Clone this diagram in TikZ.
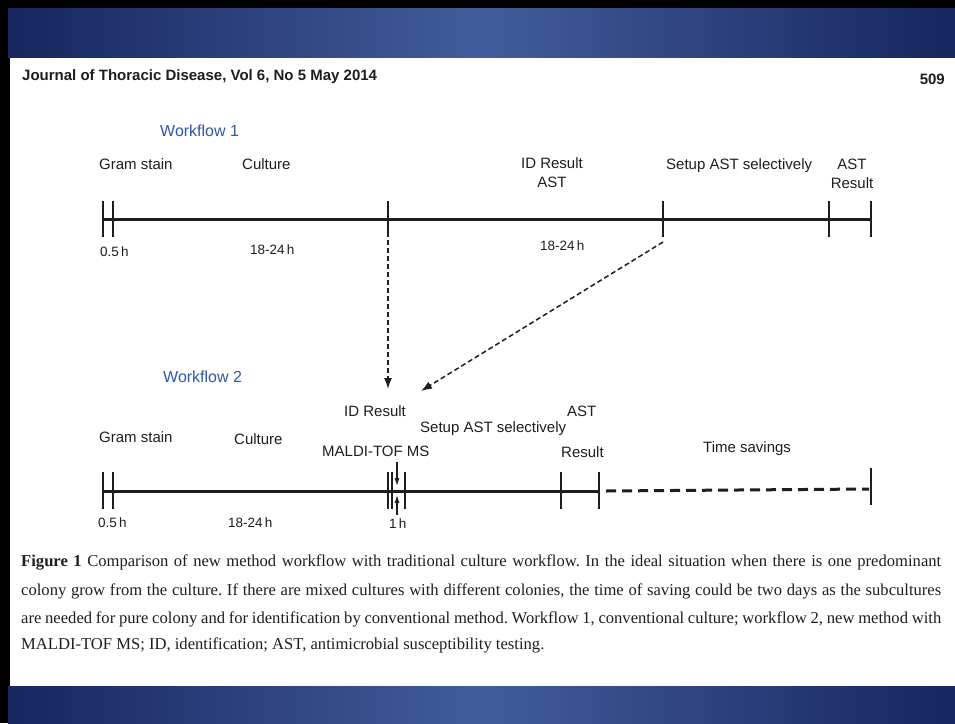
\documentclass[tikz,border=0pt]{standalone}
\usepackage{fontspec}
\setmainfont{Liberation Sans}
\newfontfamily\capfont{Liberation Serif}
\usepackage{xcolor}
\usetikzlibrary{positioning, arrows.meta}

\definecolor{bandmid}{RGB}{66,92,155}
\definecolor{bandedge}{RGB}{22,38,94}
\definecolor{wfblue}{RGB}{48,86,168}
\definecolor{ink}{RGB}{30,30,30}

\tikzset{
  lbl/.style={inner sep=0pt, text height=11pt, text depth=0pt, text=ink,
    font=\fontsize{15}{17}\selectfont},
  hrs/.style={inner sep=0pt, text height=10pt, text depth=0pt, text=ink,
    font=\fontsize{13.5}{15}\selectfont},
  wflabel/.style={inner sep=0pt, text height=11pt, text depth=0pt, text=wfblue,
    font=\fontsize{16}{18}\selectfont},
  tickmark/.style={line width=2.2pt, draw=ink},
  axis/.style={line width=3pt, draw=ink},
  jump/.style={line width=1.5pt, draw=ink, dash pattern=on 5pt off 3pt,
    -{Latex[length=11pt,width=8pt]}},
  marker/.style={line width=1.1pt, draw=ink, -{Latex[length=8pt,width=5pt]}},
  caprow/.style={inner sep=0pt, anchor=west, text=ink,
    font=\capfont\frenchspacing\fontsize{16.6}{18}\selectfont}
}

\begin{document}
\begin{tikzpicture}[x=1pt, y=-1pt]
  \useasboundingbox (0,0) rectangle (955,723);
  % frame and blue bands
  \fill[black] (0,0) rectangle (955,723);
  \fill[white] (10,57) rectangle (955,686);
  \shade[left color=bandedge, right color=bandedge, middle color=bandmid]
    (8,8) rectangle (955,57);
  \shade[left color=bandedge, right color=bandedge, middle color=bandmid]
    (8,686) rectangle (955,723);

  % page header
  \node[inner sep=0pt, anchor=west, text=ink, font=\bfseries\fontsize{15}{17}\selectfont]
    (journal) at (22,77) {Journal of Thoracic Disease, Vol 6, No 5 May 2014};
  \node[inner sep=0pt, anchor=east, text=ink, font=\bfseries\fontsize{15}{17}\selectfont]
    (page) at (945,79) {509};

  % workflow 1
  \node[wflabel, anchor=west] (wf1) at (160,131) {Workflow 1};
  \node[lbl, anchor=west] (gram1) at (99,164) {Gram stain};
  \node[lbl, anchor=west] (cult1) at (242,164) {Culture};
  \node[lbl] (id1) at (552,163) {ID Result};
  \node[lbl, below=8pt of id1] (ast1) {AST};
  \node[lbl, anchor=west] (setup1) at (666,164) {Setup AST selectively};
  \node[lbl] (astr1) at (852,164) {AST};
  \node[lbl, below=8pt of astr1] (res1) {Result};

  \draw[axis] (103,219) -- (871,219);
  \foreach \x in {103,113,388,663,829,871}{
    \draw[tickmark] (\x,201) -- (\x,237);
  }
  \node[hrs, anchor=west] (half1) at (100,251) {0.5\,h};
  \node[hrs, anchor=west] (grow1) at (250,249) {18-24\,h};
  \node[hrs, anchor=west] (grow2) at (540,245) {18-24\,h};

  % workflow 2
  \node[wflabel, anchor=west] (wf2) at (163,377) {Workflow 2};
  \node[lbl, anchor=west] (id2) at (344,411) {ID Result};
  \node[lbl, anchor=west] (setup2) at (420,427) {Setup AST selectively};
  \node[lbl, anchor=west] (ast2) at (567,411) {AST};
  \node[lbl, anchor=west] (gram2) at (99,437) {Gram stain};
  \node[lbl, anchor=west] (cult2) at (234,439) {Culture};
  \node[lbl, anchor=west] (maldi) at (322,451) {MALDI-TOF MS};
  \node[lbl, anchor=west] (res2) at (561,452) {Result};
  \node[lbl, anchor=west] (save) at (703,447) {Time savings};

  \draw[axis] (103,491) -- (599,491);
  \foreach \x in {103,113,388,392,405,561,599}{
    \draw[tickmark] (\x,472) -- (\x,509);
  }
  \draw[line width=3pt, draw=ink, dash pattern=on 10pt off 6pt] (606,491) -- (869,489);
  \draw[tickmark] (871,468) -- (871,505);
  \node[hrs, anchor=west] (half2) at (98,522) {0.5\,h};
  \node[hrs, anchor=west] (grow3) at (228,522) {18-24\,h};
  \node[hrs, anchor=west] (onehr) at (389,523) {1\,h};

  % 1 h markers
  \coordinate (mtop) at (397,462);
  \coordinate (mtopend) at (397,486);
  \coordinate (mbot) at (397,515);
  \coordinate (mbotend) at (397,495);
  \draw[marker] (mtop) -- (mtopend);
  \draw[marker] (mbot) -- (mbotend);

  % links between workflows
  \coordinate (idtick) at (388,240);
  \coordinate (idnew) at (388,389);
  \coordinate (setuptick) at (663,242);
  \coordinate (setupnew) at (421,391);
  \draw[jump] (idtick) -- (idnew);
  \draw[jump] (setuptick) -- (setupnew);

  % caption
  \node[caprow] (cap1) at (21,562) {\makebox[920pt][s]{\textbf{Figure 1} Comparison of new method workflow with traditional culture workflow. In the ideal situation when there is one predominant}};
  \node[caprow] (cap2) at (21,591) {\makebox[920pt][s]{colony grow from the culture. If there are mixed cultures with different colonies, the time of saving could be two days as the subcultures}};
  \node[caprow] (cap3) at (21,619) {\makebox[920pt][s]{are needed for pure colony and for identification by conventional method. Workflow 1, conventional culture; workflow 2, new method with}};
  \node[caprow] (cap4) at (21,645) {MALDI-TOF MS; ID, identification; AST, antimicrobial susceptibility testing.};
\end{tikzpicture}
\end{document}
